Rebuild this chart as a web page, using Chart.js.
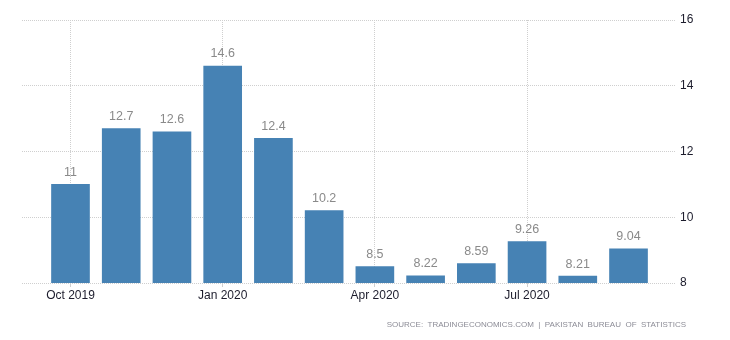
<!DOCTYPE html>
<html>
<head>
<meta charset="utf-8">
<script src="https://cdn.jsdelivr.net/npm/chart.js@4/dist/chart.umd.min.js"></script>
<style>
  html, body { margin: 0; padding: 0; background: #fff; }
  #wrap { width: 730px; height: 340px; }
</style>
</head>
<body>
<div id="wrap"><canvas id="chart" width="730" height="340"></canvas></div>
<script>
// DADOS
const meses = ["Oct 2019", "Nov 2019", "Dec 2019", "Jan 2020", "Feb 2020", "Mar 2020",
  "Apr 2020", "May 2020", "Jun 2020", "Jul 2020", "Aug 2020", "Sep 2020"];
const valores = [11, 12.7, 12.6, 14.6, 12.4, 10.2, 8.5, 8.22, 8.59, 9.26, 8.21, 9.04];
const indicesRotulo = [0, 3, 6, 9];
const ticksY = [8, 10, 12, 14, 16];
const fonte = "SOURCE:  TRADINGECONOMICS.COM  |  PAKISTAN  BUREAU  OF  STATISTICS";

const corBarra = "#4682b4";
const corGrade = "#cfcfcf";

// rótulos de valor acima das barras + fonte
const rotulosPlugin = {
  id: "rotulos",
  afterDatasetsDraw(chart) {
    const ctx = chart.ctx;
    const meta = chart.getDatasetMeta(0);
    ctx.save();
    ctx.font = "12.5px 'Liberation Sans', Arial, sans-serif";
    ctx.fillStyle = "#8a8a8a";
    ctx.textAlign = "center";
    ctx.textBaseline = "middle";
    meta.data.forEach((bar, i) => {
      ctx.fillText(String(valores[i]), bar.x, bar.y - 12);
    });
    ctx.restore();
  },
  afterDraw(chart) {
    const ctx = chart.ctx;
    ctx.save();
    ctx.font = "8px 'Liberation Sans', Arial, sans-serif";
    ctx.fillStyle = "#8c8c96";
    ctx.textAlign = "right";
    ctx.textBaseline = "middle";
    ctx.fillText(fonte, 686, 325);
    ctx.restore();
  },
};

const ctx = document.getElementById("chart").getContext("2d");
new Chart(ctx, {
  type: "bar",
  data: {
    datasets: [
      {
        data: valores.map((v, i) => ({ x: i, y: v })),
        backgroundColor: corBarra,
        barThickness: 38,
      },
    ],
  },
  options: {
    responsive: false,
    animation: false,
    layout: { padding: { left: 22, top: 20, right: 0, bottom: 0 } },
    plugins: { legend: { display: false }, tooltip: { enabled: false } },
    scales: {
      x: {
        type: "linear",
        offset: false,
        min: -0.956,
        max: 11.936,
        afterBuildTicks: (scale) => {
          scale.ticks = indicesRotulo.map((v) => ({ value: v }));
        },
        afterFit: (scale) => {
          scale.height = 57;
        },
        ticks: {
          autoSkip: false,
          maxRotation: 0,
          padding: 1,
          color: "#1c1c2c",
          font: { family: "'Liberation Sans', Arial, sans-serif", size: 12 },
          callback: (v) => meses[v],
        },
        grid: {
          offset: false,
          color: corGrade,
          tickLength: 4,
          tickColor: corGrade,
        },
        border: { display: false, dash: [1, 1] },
      },
      y: {
        position: "right",
        min: 8,
        max: 16,
        afterBuildTicks: (scale) => {
          scale.ticks = ticksY.map((v) => ({ value: v }));
        },
        afterFit: (scale) => {
          scale.width = 54;
        },
        ticks: {
          padding: 4,
          color: "#1c1c2c",
          font: { family: "'Liberation Sans', Arial, sans-serif", size: 12 },
        },
        grid: { color: corGrade, drawTicks: false },
        border: { display: false, dash: [1, 1] },
      },
    },
  },
  plugins: [rotulosPlugin],
});
</script>
</body>
</html>
